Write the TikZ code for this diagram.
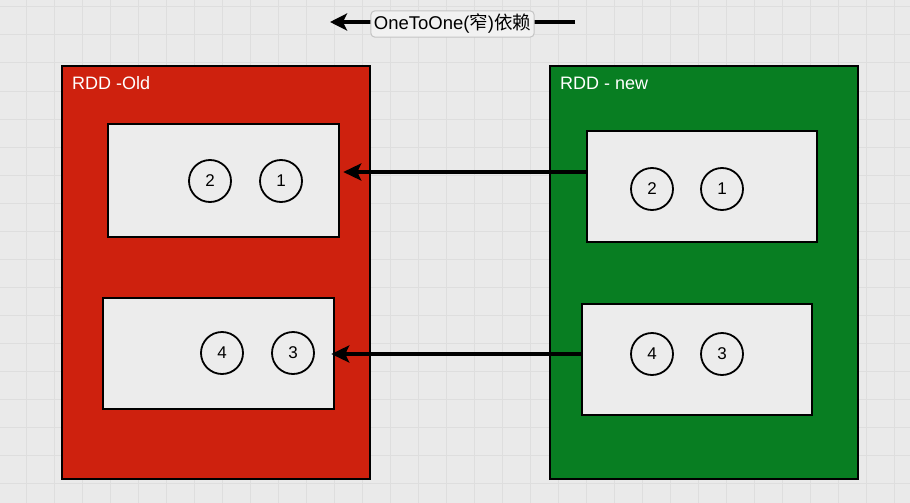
\documentclass[tikz,border=0pt]{standalone}
\usepackage{fontspec}
\setmainfont{Liberation Sans}
\newfontfamily\cjk{Noto Sans CJK SC}
\usetikzlibrary{arrows.meta}
\definecolor{bgc}{RGB}{234,234,234}
\definecolor{gridc}{RGB}{222,222,222}
\definecolor{redc}{RGB}{206,33,14}
\definecolor{greenc}{RGB}{8,126,34}
\definecolor{innerc}{RGB}{236,236,236}
\definecolor{legfill}{RGB}{241,241,241}
\definecolor{legdraw}{RGB}{196,196,196}
\tikzset{
  outerbox/.style={draw=black, line width=2.5pt, minimum width=308pt, minimum height=413pt, inner sep=0pt},
  innerbox/.style={draw=black, fill=innerc, line width=2.5pt, minimum width=231pt, minimum height=112pt, inner sep=0pt},
  part/.style={circle, draw=black, line width=1.8pt, minimum size=42pt, inner sep=0pt, font=\fontsize{17}{17}\selectfont},
  title/.style={text=white, anchor=base west, inner sep=0pt, font=\fontsize{18}{18}\selectfont},
  dep/.style={line width=3.5pt, -{Stealth[length=18pt,width=17pt,inset=4pt]}},
  legend/.style={draw=legdraw, fill=legfill, line width=1pt, rounded corners=4pt, minimum height=25pt, inner xsep=3pt, font=\fontsize{18.5}{18.5}\selectfont}
}
\begin{document}
\begin{tikzpicture}[x=1pt,y=-1pt]
\useasboundingbox (0,0) rectangle (910,503);
\fill[bgc] (0,0) rectangle (910,503);
\foreach \gx in {26,54,...,900} \draw[gridc, line width=1pt] (\gx,0) -- (\gx,503);
\foreach \gy in {7,35,...,500} \draw[gridc, line width=1pt] (0,\gy) -- (910,\gy);

% legend
\coordinate (legR) at (575,22);
\coordinate (legL) at (330,22);
\draw[line width=3.5pt, -{Stealth[length=17pt,width=17pt,inset=4pt]}] (legR) -- (legL);
\node[legend] (leg) at (452.5,24) {OneToOne({\cjk 窄}){\cjk 依赖}};

% outer boxes
\node[outerbox, fill=redc] (old) at (216,272.5) {};
\node[outerbox, fill=greenc] (new) at (704,272.5) {};
\node[title] (oldt) at (72,89) {RDD -Old};
\node[title] (newt) at (560,89) {RDD - new};

% inner boxes
\node[innerbox, minimum height=113pt] (oldA) at (223.5,180.5) {};
\node[innerbox, minimum height=111pt] (oldB) at (218.5,353.5) {};
\node[innerbox, minimum width=230pt, minimum height=111pt] (newA) at (702,186.5) {};
\node[innerbox, minimum width=230pt, minimum height=111pt] (newB) at (697,359.5) {};

% partitions
\node[part] (o2) at (210,181) {2};
\node[part] (o1) at (281,181) {1};
\node[part] (o4) at (222,353) {4};
\node[part] (o3) at (293,353) {3};
\node[part] (n2) at (652,189) {2};
\node[part] (n1) at (722,189) {1};
\node[part] (n4) at (652,354) {4};
\node[part] (n3) at (722,354) {3};

% dependencies
\draw[dep] ([yshift=14.5pt]newA.west) -- ([yshift=14.5pt,xshift=3pt]newA.west -| oldA.east);
\draw[dep] ([yshift=5.5pt]newB.west) -- ([yshift=5.5pt,xshift=-4pt]newB.west -| oldB.east);
\end{tikzpicture}
\end{document}
